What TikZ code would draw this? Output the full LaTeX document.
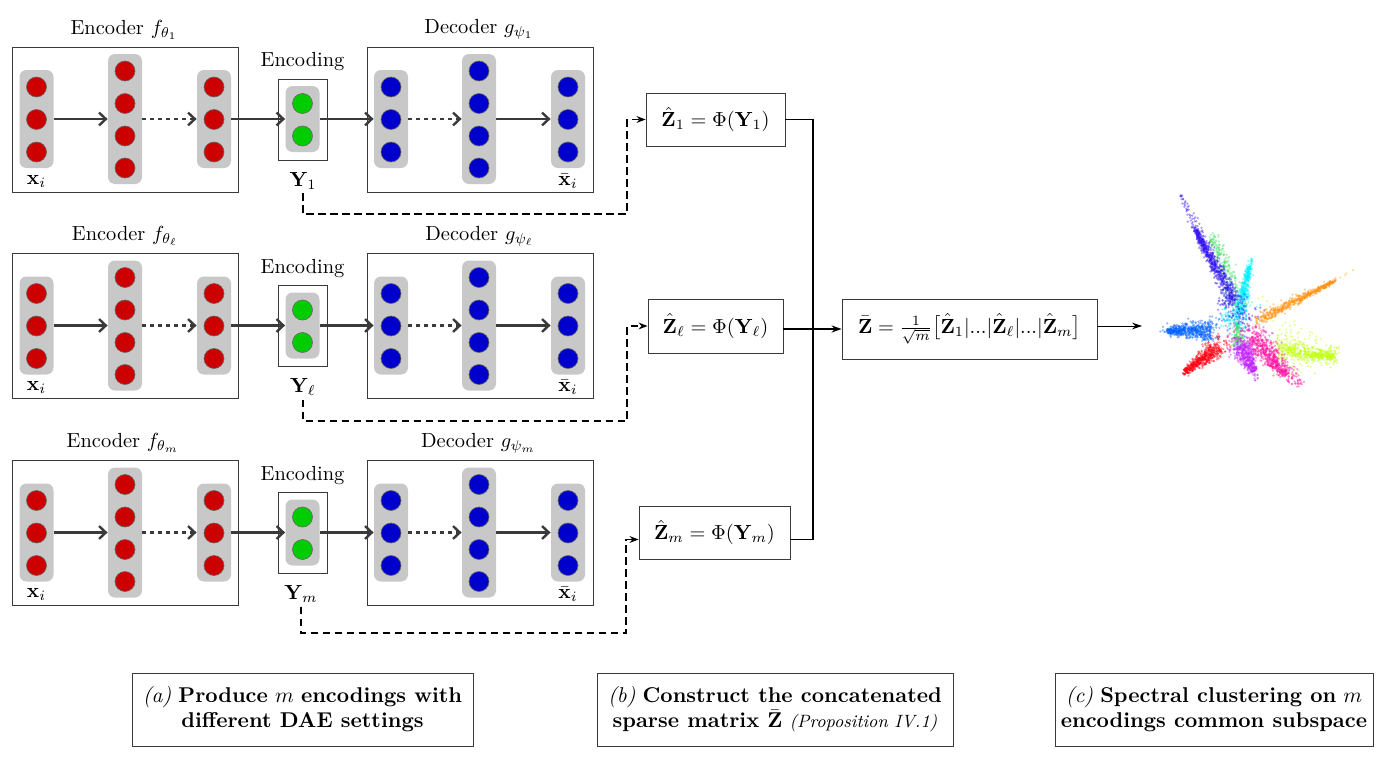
\RequirePackage{fix-cm}
\documentclass[tikz,border=0pt]{standalone}
\usepackage{amsmath}
\usetikzlibrary{arrows.meta,calc}
\definecolor{netred}{HTML}{CC0000}
\definecolor{netblue}{HTML}{0000CC}
\definecolor{netgreen}{HTML}{00CC00}
\definecolor{colgray}{HTML}{C8C8C8}
\definecolor{linegray}{HTML}{3A3A3A}
\definecolor{cindigo}{HTML}{3010F0}
\definecolor{cgreen}{HTML}{40E060}
\definecolor{ccyan}{HTML}{00F0FF}
\definecolor{corange}{HTML}{FF9010}
\definecolor{clime}{HTML}{C0FF10}
\definecolor{cpink}{HTML}{FF10A0}
\definecolor{cpurple}{HTML}{C020FF}
\definecolor{cred}{HTML}{FF0010}
\definecolor{cblue}{HTML}{0060FF}
\tikzset{
  x=0.5pt,y=-0.5pt,
  panel/.style={draw=linegray,line width=0.45pt,fill=none},
  colshort/.style={fill=colgray,rounded corners=3.5pt,minimum width=17pt,minimum height=49pt,inner sep=0pt},
  coltall/.style={fill=colgray,rounded corners=3.5pt,minimum width=17pt,minimum height=65pt,inner sep=0pt},
  colpair/.style={fill=colgray,rounded corners=3.5pt,minimum width=17pt,minimum height=33pt,inner sep=0pt},
  neuron/.style={circle,draw=black!60,line width=0.3pt,minimum size=10pt,inner sep=0pt},
  flow/.style={draw=linegray,line width=1.35pt,-{Straight Barb[length=3.4pt,width=6.4pt,line width=1.2pt]}},
  dotflow/.style={flow,dash pattern=on 1.9pt off 2.1pt},
  eqbox/.style={draw=linegray,line width=0.45pt,inner sep=0pt,align=center},
  feed/.style={draw=black,line width=0.6pt,dash pattern=on 3.8pt off 2.2pt,-{Stealth[length=4.5pt,width=3.4pt]}},
  merge/.style={draw=black,line width=0.75pt},
  mergein/.style={merge,-{Stealth[length=5pt,width=3.6pt]}},
  mergeout/.style={draw=black,line width=0.5pt,-{Stealth[length=5pt,width=3.4pt]}},
  caption/.style={eqbox,font=\fontsize{10.7}{12.4}\selectfont},
  lbl/.style={inner sep=0pt,font=\fontsize{10.2}{12}\selectfont},
  dot/.style={opacity=0.42}
}
% A column of neurons: prefix, x, colour, list of y positions
\newcommand{\neurons}[4]{\foreach \ny [count=\nk] in {#4} \node[neuron,fill=#3] (#1n\nk) at (#2,\ny) {};}
% One encoder / encoding / decoder row: prefix, y offset, title centres, subscript, output x
\newcommand{\daerow}[6]{%
\begin{scope}[shift={(0,#2)}]
  \node[lbl] (#1enct) at (#3,29.5) {Encoder $f_{\theta_{#5}}$};
  \node[lbl] (#1dect) at (#4,29.5) {Decoder $g_{\psi_{#5}}$};
  \node[lbl] (#1enc) at (302.5,62) {Encoding};
  \draw[panel] (12,47) rectangle (238,192);
  \draw[panel] (367,47) rectangle (593,192);
  \draw[panel] (278,79) rectangle (327,160);
  \node[colshort] (#1a) at (36.5,119) {};
  \node[coltall] (#1b) at (125,119) {};
  \node[colshort] (#1c) at (214,119) {};
  \node[colpair] (#1y) at (302.5,119) {};
  \node[colshort] (#1d) at (391,119) {};
  \node[coltall] (#1e) at (479,119) {};
  \node[colshort] (#1f) at (568,119) {};
  \neurons{#1a}{36.5}{netred}{87,119.5,152}
  \neurons{#1b}{125}{netred}{71,103.5,136,168}
  \neurons{#1c}{214}{netred}{87,119.5,152}
  \neurons{#1y}{302.5}{netgreen}{103.5,136}
  \neurons{#1d}{391}{netblue}{87,119.5,152}
  \neurons{#1e}{479}{netblue}{71,103.5,136,168}
  \neurons{#1f}{568}{netblue}{87,119.5,152}
  \draw[flow] (#1a.east) -- (#1b.west);
  \draw[dotflow] (#1b.east) -- (#1c.west);
  \draw[flow] (#1c.east) -- (#1y.west);
  \draw[flow] (#1y.east) -- (#1d.west);
  \draw[dotflow] (#1d.east) -- (#1e.west);
  \draw[flow] (#1e.east) -- (#1f.west);
  \node[lbl] (#1xi) at (36.5,181) {$\mathbf{x}_i$};
  \node[lbl] (#1xo) at (568,181) {$\bar{\mathbf{x}}_i$};
  \node[lbl,anchor=south,minimum height=12pt] (#1out) at (#6,193) {$\mathbf{Y}_{#5}$};
\end{scope}}
% Scattered embedding cloud: colour, start x,y, end x,y, half width, count
\newcommand{\cloud}[7]{%
  \foreach \pt in {1,...,#7}{
    \pgfmathsetmacro{\tval}{rnd}
    \pgfmathsetmacro{\sval}{(rnd+rnd+rnd-1.5)*#6*(0.35+0.85*\tval)}
    \pgfmathsetmacro{\lval}{veclen(#4-#2,#5-#3)}
    \pgfmathsetmacro{\pxv}{#2+(#4-#2)*\tval-(#5-#3)/\lval*\sval}
    \pgfmathsetmacro{\pyv}{#3+(#5-#3)*\tval+(#4-#2)/\lval*\sval}
    \fill[#1,dot] (\pxv,\pyv) circle (0.62pt);
  }}
\begin{document}
\begin{tikzpicture}
\useasboundingbox (0,0) rectangle (1394,760);

\daerow{p}{0}{124}{479}{1}{303}
\daerow{q}{206.5}{125}{479.5}{\ell}{303}
\daerow{r}{413.5}{123}{478.5}{m}{301}

% Projected encodings and their concatenation
\node[eqbox,minimum width=69.5pt,minimum height=26.5pt,lbl,draw=linegray] (z1) at (715.5,119.5) {$\hat{\mathbf{Z}}_1=\Phi(\mathbf{Y}_1)$};
\node[eqbox,minimum width=67.5pt,minimum height=27pt,lbl,draw=linegray] (zl) at (715.5,326) {$\hat{\mathbf{Z}}_\ell=\Phi(\mathbf{Y}_\ell)$};
\node[eqbox,minimum width=75.5pt,minimum height=26.5pt,lbl,draw=linegray] (zm) at (714.5,532.5) {$\hat{\mathbf{Z}}_m=\Phi(\mathbf{Y}_m)$};
\node[eqbox,minimum width=127.5pt,minimum height=30pt,lbl,draw=linegray] (zbar) at (969.5,329) {$\bar{\mathbf{Z}}=\frac{1}{\sqrt{m}}\bigl[\hat{\mathbf{Z}}_1|...|\hat{\mathbf{Z}}_\ell|...|\hat{\mathbf{Z}}_m\bigr]$};

% Dashed feeds from each encoding to its projection
\coordinate (b1) at (627,214);
\coordinate (b2) at (627,421);
\coordinate (b3) at (626,633);
\draw[feed] (pout.south) |- (b1) |- (z1.west);
\draw[feed] (qout.south) |- (b2) |- (zl.west);
\draw[feed] (rout.south) |- (b3) |- ($(zm.west)+(0,7)$);

% Merge into the concatenated matrix
\coordinate (join) at (813,329);
\coordinate (toscatter) at (1142,326);
\draw[merge] (z1.east) -| (join);
\draw[merge] ($(zm.east)+(0,7)$) -| (join);
\draw[mergein] (zbar.west -| zl.east) -- (zbar.west);
\draw[mergeout] (zbar.east |- toscatter) -- (toscatter);

% Embedding of the clustered points
\pgfmathsetseed{1729}
\begin{scope}[shift={(1130,180)},x=0.1667pt,y=-0.1667pt]
  % sparse halo around the common centre
  \cloud{cindigo}{265}{365}{365}{450}{60}{60}
  \cloud{ccyan}{275}{400}{360}{445}{60}{80}
  \cloud{cpink}{285}{510}{375}{420}{50}{40}
  \cloud{cgreen}{320}{430}{325}{505}{20}{120}
  \cloud{clime}{395}{350}{440}{470}{40}{10}
  % green arm beside the indigo one
  \cloud{cgreen}{245}{160}{330}{385}{34}{250}
  % cyan arm
  \cloud{ccyan}{365}{235}{318}{440}{24}{170}
  \cloud{ccyan}{358}{260}{328}{400}{18}{270}
  % indigo arm
  \cloud{cindigo}{153}{45}{200}{140}{16}{40}
  \cloud{cindigo}{190}{125}{345}{425}{30}{220}
  \cloud{cindigo}{195}{150}{315}{370}{22}{520}
  % orange arm
  \cloud{corange!70!yellow}{625}{298}{670}{270}{4}{4}
  \cloud{corange}{620}{298}{385}{415}{20}{140}
  \cloud{corange}{610}{305}{378}{425}{12}{380}
  % lime arm
  \cloud{clime}{625}{530}{435}{495}{80}{240}
  \cloud{clime}{610}{530}{445}{512}{26}{380}
  % pink arm
  \cloud{cpink}{510}{620}{345}{435}{48}{200}
  \cloud{cpink}{470}{585}{365}{470}{36}{460}
  % purple arm
  \cloud{cpurple}{385}{600}{315}{470}{30}{90}
  \cloud{cpurple}{372}{575}{328}{495}{30}{360}
  % red arm
  \cloud{cred}{158}{582}{285}{478}{32}{110}
  \cloud{cred}{165}{575}{268}{503}{24}{460}
  % blue arm
  \cloud{cblue}{88}{452}{270}{445}{36}{120}
  \cloud{cblue}{110}{452}{245}{452}{26}{460}
\end{scope}

% Stage captions
\node[caption,minimum width=170.5pt,minimum height=36.5pt] (capa) at (302.5,709.5) {\textit{(a)} \textbf{Produce} $m$ \textbf{encodings with}\\\textbf{different DAE settings}};
\node[caption,minimum width=178pt,minimum height=36.5pt] (capb) at (775,709.5) {\textit{(b)} \textbf{Construct the concatenated}\\\textbf{sparse matrix $\bar{\mathbf{Z}}$} {\fontsize{8.9}{11}\selectfont\textit{(Proposition IV.1)}}};
\node[caption,minimum width=159pt,minimum height=36.5pt] (capc) at (1214,709.5) {\textit{(c)} \textbf{Spectral clustering on} $m$\\\textbf{encodings common subspace}};
\end{tikzpicture}
\end{document}
